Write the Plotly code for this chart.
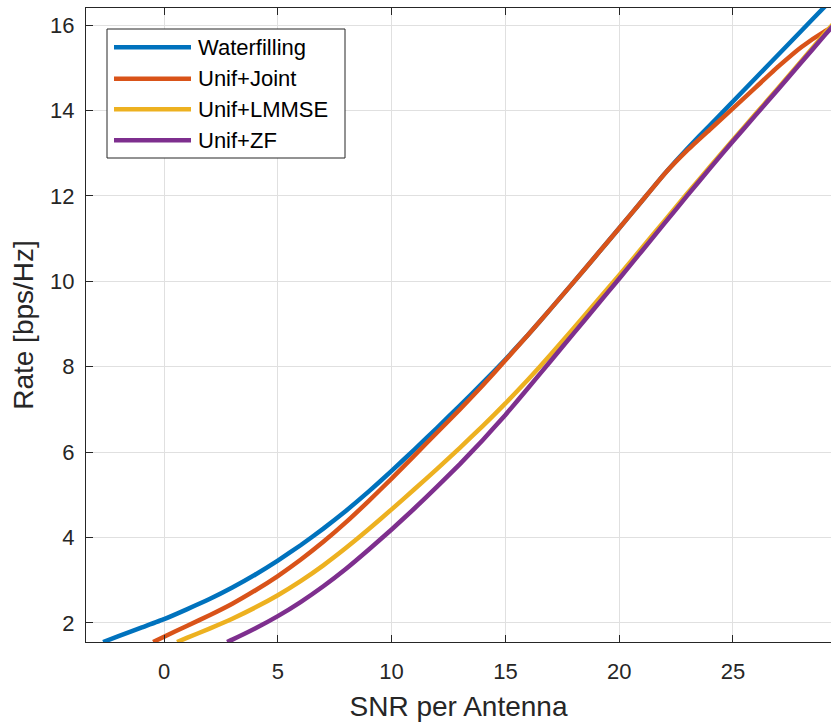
import plotly.graph_objects as go

# ---------------- data ----------------
snr_wf = [-2.68, -2, -1, 0, 1, 2, 3, 4, 5, 6, 7, 8, 9, 10, 11, 12, 13, 14, 15, 16,
          17, 18, 19, 20, 21, 22, 23, 24, 25, 26, 27, 28, 29, 29.5]
rate_wf = [1.555, 1.69, 1.89, 2.09, 2.32, 2.56, 2.83, 3.13, 3.46, 3.82, 4.21, 4.63,
           5.08, 5.56, 6.06, 6.57, 7.09, 7.62, 8.17, 8.75, 9.36, 9.98, 10.61, 11.24,
           11.88, 12.52, 13.11, 13.66, 14.21, 14.76, 15.31, 15.86, 16.41, 16.68]

snr_joint = [-0.48, 0, 1, 2, 3, 4, 5, 6, 7, 8, 9, 10, 11, 12, 13, 14, 15, 16, 17, 18,
             19, 20, 21, 22, 23, 24, 25, 26, 27, 28, 29, 29.5]
rate_joint = [1.555, 1.68, 1.93, 2.18, 2.45, 2.76, 3.10, 3.48, 3.90, 4.36, 4.86, 5.38,
              5.92, 6.46, 7.00, 7.56, 8.15, 8.75, 9.36, 9.98, 10.61, 11.24, 11.88,
              12.52, 13.07, 13.56, 14.05, 14.54, 15.03, 15.48, 15.84, 15.98]

snr_lmmse = [0.57, 1, 2, 3, 4, 5, 6, 7, 8, 9, 10, 11, 12, 13, 14, 15, 16, 17, 18, 19,
             20, 21, 22, 23, 24, 25, 26, 27, 28, 29, 29.5]
rate_lmmse = [1.555, 1.65, 1.87, 2.10, 2.36, 2.65, 2.98, 3.35, 3.76, 4.20, 4.66, 5.13,
              5.61, 6.10, 6.61, 7.14, 7.70, 8.29, 8.90, 9.52, 10.14, 10.78, 11.42,
              12.06, 12.69, 13.31, 13.92, 14.53, 15.15, 15.78, 16.08]

snr_zf = [2.77, 3, 4, 5, 6, 7, 8, 9, 10, 11, 12, 13, 14, 15, 16, 17, 18, 19, 20, 21,
          22, 23, 24, 25, 26, 27, 28, 29, 29.5]
rate_zf = [1.555, 1.61, 1.87, 2.16, 2.49, 2.86, 3.27, 3.72, 4.19, 4.68, 5.19, 5.72,
           6.28, 6.87, 7.50, 8.14, 8.78, 9.42, 10.06, 10.71, 11.36, 12.01, 12.65,
           13.28, 13.89, 14.50, 15.12, 15.74, 16.04]

series_names = ["Waterfilling", "Unif+Joint", "Unif+LMMSE", "Unif+ZF"]
x_ticks = [0, 5, 10, 15, 20, 25]
y_ticks = [2, 4, 6, 8, 10, 12, 14, 16]
x_label = "SNR per Antenna"
y_label = "Rate [bps/Hz]"

# ---------------- styling ----------------
colors = ["#0072BD", "#D95319", "#EDB120", "#7E2F8E"]
W, H = 831, 723
L, R, T, B = 86, 0, 8, 81
FONT = "Liberation Sans, Arial, Helvetica, sans-serif"
AX = "#262626"
GRID = "#e0e0e0"
LW = 4.5

xs = [snr_wf, snr_joint, snr_lmmse, snr_zf]
ys = [rate_wf, rate_joint, rate_lmmse, rate_zf]

fig = go.Figure()
for name, x, y, c in zip(series_names, xs, ys, colors):
    fig.add_trace(go.Scatter(x=x, y=y, name=name, mode="lines",
                             line=dict(color=c, width=LW, shape="spline", smoothing=0.4),
                             showlegend=False))

pw = W - L - R
ph = H - T - B


def px2paper(px, py):
    return (px - L) / pw, (H - B - py) / ph


# manual MATLAB-style legend
bx0, by0 = px2paper(107, 29)
bx1, by1 = px2paper(345, 158)
shapes = [dict(type="rect", xref="paper", yref="paper", x0=bx0, y0=by1, x1=bx1, y1=by0,
               line=dict(color=AX, width=1), fillcolor="white", layer="above")]
annotations = []
rows = [47.3, 78.7, 109.3, 140.3]
for name, c, ry in zip(series_names, colors, rows):
    lx0, ly = px2paper(114, ry)
    lx1, _ = px2paper(191, ry)
    shapes.append(dict(type="line", xref="paper", yref="paper", x0=lx0, x1=lx1, y0=ly, y1=ly,
                       line=dict(color=c, width=LW), layer="above"))
    tx, _ = px2paper(196, ry)
    annotations.append(dict(xref="paper", yref="paper", x=tx, y=ly, text=name, showarrow=False,
                            xanchor="left", yanchor="middle",
                            font=dict(family=FONT, size=22, color="#000000")))

fig.update_layout(
    width=W, height=H,
    margin=dict(l=L, r=R, t=T, b=B, autoexpand=False),
    paper_bgcolor="white", plot_bgcolor="white",
    font=dict(family=FONT, color=AX),
    shapes=shapes, annotations=annotations,
    showlegend=False,
)
fig.update_xaxes(
    range=[-3.43, 29.31], tickvals=x_ticks, ticktext=[str(v) for v in x_ticks],
    showgrid=True, gridcolor=GRID, gridwidth=1, zeroline=False,
    showline=True, linecolor=AX, linewidth=1, mirror="ticks",
    ticks="inside", ticklen=7, tickcolor=AX, tickwidth=1,
    tickfont=dict(family=FONT, size=22, color=AX), ticklabelstandoff=10,
    title=dict(text=x_label, font=dict(family=FONT, size=28, color=AX), standoff=12),
)
fig.update_yaxes(
    range=[1.555, 16.398], tickvals=y_ticks, ticktext=[str(v) for v in y_ticks],
    showgrid=True, gridcolor=GRID, gridwidth=1, zeroline=False,
    showline=True, linecolor=AX, linewidth=1, mirror=False,
    ticks="inside", ticklen=7, tickcolor=AX, tickwidth=1,
    tickfont=dict(family=FONT, size=22, color=AX), ticklabelstandoff=6,
    title=dict(text=y_label, font=dict(family=FONT, size=28, color=AX), standoff=8),
)

fig.write_html("out.html")
